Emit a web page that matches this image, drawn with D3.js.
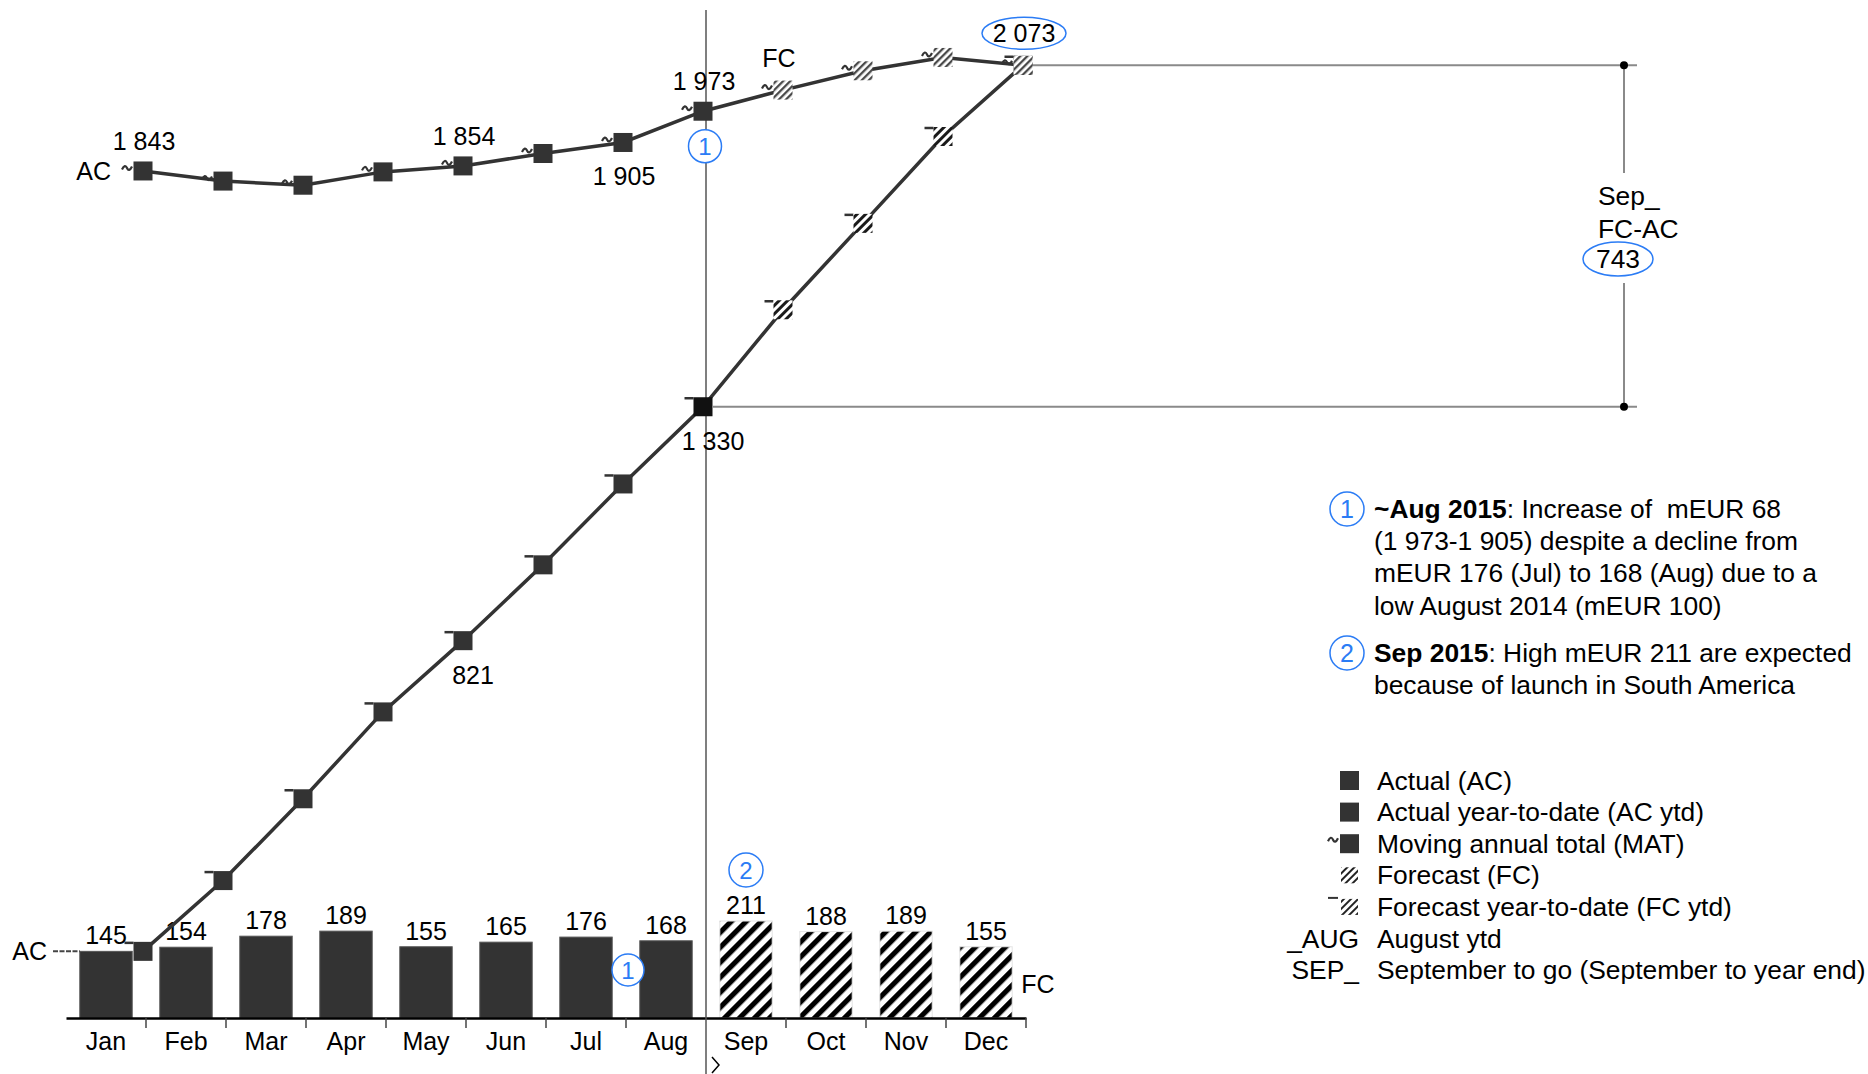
<!DOCTYPE html>
<html><head><meta charset="utf-8">
<script src="https://cdn.jsdelivr.net/npm/d3@7"></script>
<style>
html,body{margin:0;padding:0;background:#fff;}
svg{display:block;font-family:"Liberation Sans",Arial,Helvetica,sans-serif;}
</style></head><body>
<svg id="chart" width="1868" height="1074"></svg>
<script>
// ---------------- data ----------------
const months = ["Jan","Feb","Mar","Apr","May","Jun","Jul","Aug","Sep","Oct","Nov","Dec"];
const acMonthly = [145,154,178,189,155,165,176,168];        // Actual Jan..Aug
const fcMonthly = [211,188,189,155];                        // Forecast Sep..Dec
const acYtd = [145,299,477,666,821,986,1162,1330];          // Actual year-to-date
const fcYtd = [1541,1729,1918,2073];                        // Forecast year-to-date
const acMat = [1843,1821,1812,1841,1854,1881,1905,1973];    // Moving annual total (AC)
const fcMat = [2019,2061,2090,2073];                        // Moving annual total (FC)
const gapLabel = ["Sep_","FC-AC"];
const gapValue = 743;
const notes = [
  {n:"1", lines:[[{t:"~Aug 2015",b:true},{t:": Increase of \u00a0mEUR 68"}],[{t:"(1 973-1 905) despite a decline from"}],[{t:"mEUR 176 (Jul) to 168 (Aug) due to a"}],[{t:"low August 2014 (mEUR 100)"}]]},
  {n:"2", lines:[[{t:"Sep 2015",b:true},{t:": High mEUR 211 are expected"}],[{t:"because of launch in South America"}]]}
];
const legendItems = [
  {icon:"ac", label:"Actual (AC)"},
  {icon:"ac", label:"Actual year-to-date (AC ytd)"},
  {icon:"mat", label:"Moving annual total (MAT)"},
  {icon:"fc", label:"Forecast (FC)"},
  {icon:"fcytd", label:"Forecast year-to-date (FC ytd)"},
  {icon:"_AUG", label:"August ytd"},
  {icon:"SEP_", label:"September to go (September to year end)"}
];

// ---------------- setup ----------------
const svg = d3.select("#chart");
const FONT = '"Liberation Sans",Arial,Helvetica,sans-serif';
const BLUE = "#2b7cf5";
const DARK = "#333";
const RFS = 26.4; // right-side font size
const fmt = v => d3.format(",")(v).replace(/,/g," ");

const bars = months.map((m,i)=>({m, v: i<8?acMonthly[i]:fcMonthly[i-8], fc:i>=8}));
const ytd  = months.map((m,i)=>({m, v: i<8?acYtd[i]:fcYtd[i-8], fc:i>=8}));
const mat  = months.map((m,i)=>({m, v: i<8?acMat[i]:fcMat[i-8], fc:i>=8}));

const x = d3.scaleBand().domain(months).range([66,1026]).padding(0);
const y = d3.scaleLinear().domain([0,2215]).range([1018,0]);
const bw = x.bandwidth();
const barW = bw*0.655;
const mx = m => x(m) + bw - 3;
const MS = 19; // marker size

// tilde path (left-center at x0,y0, width 10)
const tildeD = (x0,y0) => `M${x0},${y0+1.5} C${x0+2},${y0-2.8} ${x0+3.8},${y0-2.8} ${x0+5},${y0} S${x0+8},${y0+2.8} ${x0+10},${y0-1.5}`;

// patterns
const defs = svg.append("defs");
function hatch(id, period, stripe, color){
  const p = defs.append("pattern").attr("id",id).attr("patternUnits","userSpaceOnUse")
    .attr("width",period).attr("height",period).attr("patternTransform","rotate(45)");
  p.append("rect").attr("width",period).attr("height",period).attr("fill","#fff");
  p.append("rect").attr("width",stripe).attr("height",period).attr("fill",color);
}
hatch("hatchBar",10.6,5.2,"#000");
hatch("hatchMark",6,3,"#1a1a1a");
hatch("hatchMat",5,2.3,"#4a4a4a");
hatch("hatchLeg",5,2,"#222");

// ---------------- bars ----------------
const gBars = svg.append("g");
gBars.selectAll("rect").data(bars).join("rect")
  .attr("x", d=>x(d.m)+(bw-barW)/2).attr("y", d=>y(d.v))
  .attr("width", barW).attr("height", d=>y(0)-y(d.v))
  .attr("fill", d=>d.fc?"url(#hatchBar)":DARK)
  .attr("stroke", d=>d.fc?"#e4e4e4":"#555").attr("stroke-width",1);

gBars.selectAll("text").data(bars).join("text")
  .attr("x", d=>x(d.m)+bw/2).attr("y", d=>y(d.v)-7)
  .attr("text-anchor","middle").attr("font-size",25).attr("fill","#000")
  .text(d=>d.v);

// AC / FC labels for bars
svg.append("text").attr("x",47).attr("y",y(acMonthly[0])+9).attr("text-anchor","end")
  .attr("font-size",25).text("AC");
svg.append("line").attr("x1",53).attr("x2",x("Jan")+(bw-barW)/2).attr("y1",y(acMonthly[0])).attr("y2",y(acMonthly[0]))
  .attr("stroke","#444").attr("stroke-width",2).attr("stroke-dasharray","5,1.5");
svg.append("text").attr("x",x("Dec")+(bw+barW)/2+9).attr("y",993)
  .attr("font-size",25).text("FC");

// ---------------- axis ----------------
const axis = d3.axisBottom(x).tickSize(0).tickPadding(14).tickSizeOuter(0);
const ax = svg.append("g").attr("transform",`translate(0,${y(0)})`).call(axis)
  .attr("font-size",25).attr("font-family",FONT);
ax.select(".domain").attr("stroke","#000").attr("stroke-width",2.5);
ax.selectAll("text").attr("fill","#000");
const tickXs = months.slice(1).map(m=>x(m)).concat([x("Dec")+bw]).filter(v=>Math.abs(v-x("Sep"))>1);
svg.append("g").selectAll("line").data(tickXs).join("line")
  .attr("x1",d=>d).attr("x2",d=>d).attr("y1",y(0)).attr("y2",y(0)+10)
  .attr("stroke","#444").attr("stroke-width",1.5);

// vertical separator
const sepX = x("Sep");
svg.append("line").attr("x1",sepX).attr("x2",sepX).attr("y1",10).attr("y2",1074)
  .attr("stroke","#555").attr("stroke-width",1.5);
svg.append("path").attr("d",`M${sepX+6},1057 L${sepX+13},1065 L${sepX+6},1073`)
  .attr("fill","none").attr("stroke","#000").attr("stroke-width",1.5);

// ---------------- gap bracket (Sep_ FC-AC) ----------------
const yTop = y(fcYtd[3]), yBot = y(acYtd[7]);
const bx = 1624;
const gGap = svg.append("g").attr("stroke","#8a8a8a").attr("stroke-width",2);
gGap.append("line").attr("x1",mx("Dec")+10).attr("x2",bx+13).attr("y1",yTop).attr("y2",yTop);
gGap.append("line").attr("x1",mx("Aug")+10).attr("x2",bx+13).attr("y1",yBot).attr("y2",yBot);
gGap.append("line").attr("x1",bx).attr("x2",bx).attr("y1",yTop).attr("y2",173);
gGap.append("line").attr("x1",bx).attr("x2",bx).attr("y1",283).attr("y2",yBot);
svg.append("circle").attr("cx",bx).attr("cy",yTop).attr("r",4).attr("fill","#000");
svg.append("circle").attr("cx",bx).attr("cy",yBot).attr("r",4).attr("fill","#000");
svg.append("text").attr("x",1598).attr("y",205).attr("font-size",RFS).text(gapLabel[0]);
svg.append("text").attr("x",1598).attr("y",238).attr("font-size",RFS).text(gapLabel[1]);
svg.append("ellipse").attr("cx",1618).attr("cy",259).attr("rx",35).attr("ry",17)
  .attr("fill","none").attr("stroke",BLUE).attr("stroke-width",1.5);
svg.append("text").attr("x",1618).attr("y",268).attr("text-anchor","middle").attr("font-size",RFS).text(gapValue);

// ---------------- lines ----------------
const line = d3.line().x(d=>mx(d.m)).y(d=>y(d.v));
svg.append("path").datum(ytd).attr("d",line).attr("fill","none").attr("stroke",DARK).attr("stroke-width",3.5);
svg.append("path").datum(mat).attr("d",line).attr("fill","none").attr("stroke",DARK).attr("stroke-width",3.5);

// ytd markers
const gY = svg.append("g");
gY.selectAll("line").data(ytd).join("line")
  .attr("x1",d=>mx(d.m)-MS/2-9).attr("x2",d=>mx(d.m)-MS/2)
  .attr("y1",d=>y(d.v)-MS/2+1).attr("y2",d=>y(d.v)-MS/2+1)
  .attr("stroke",DARK).attr("stroke-width",2.5);
gY.selectAll("rect").data(ytd).join("rect")
  .attr("x",d=>mx(d.m)-MS/2).attr("y",d=>y(d.v)-MS/2).attr("width",MS).attr("height",MS)
  .attr("fill",d=>d.fc?"url(#hatchMark)":(d.m==="Aug"?"#111":DARK));

// mat markers
const gM = svg.append("g");
gM.selectAll("path").data(mat).join("path")
  .attr("d",d=>tildeD(mx(d.m)-MS/2-11.5, y(d.v)-3))
  .attr("fill","none").attr("stroke",DARK).attr("stroke-width",2.2);
gM.selectAll("rect").data(mat).join("rect")
  .attr("x",d=>mx(d.m)-MS/2).attr("y",d=>y(d.v)-MS/2).attr("width",MS).attr("height",MS)
  .attr("fill",d=>d.fc?"url(#hatchMat)":DARK);

// ---------------- labels on lines ----------------
const matByM = Object.fromEntries(mat.map(d=>[d.m,d]));
const ytdByM = Object.fromEntries(ytd.map(d=>[d.m,d]));
const lbls = [
  {d:matByM.Jan, dx:1, dy:-21, t:fmt(matByM.Jan.v)},
  {d:matByM.May, dx:1, dy:-21, t:fmt(matByM.May.v)},
  {d:matByM.Jul, dx:1, dy:43, t:fmt(matByM.Jul.v)},
  {d:matByM.Aug, dx:1, dy:-21, t:fmt(matByM.Aug.v)},
  {d:matByM.Sep, dx:-4, dy:-23, t:"FC"},
  {d:matByM.Dec, dx:1, dy:-23, t:fmt(matByM.Dec.v)},
  {d:ytdByM.May, dx:10, dy:43, t:fmt(ytdByM.May.v)},
  {d:ytdByM.Aug, dx:10, dy:43, t:fmt(ytdByM.Aug.v)}
];
svg.append("g").selectAll("text").data(lbls).join("text")
  .attr("x",l=>mx(l.d.m)+l.dx).attr("y",l=>y(l.d.v)+l.dy)
  .attr("text-anchor","middle").attr("font-size",25).attr("fill","#000").text(l=>l.t);
svg.append("text").attr("x",mx("Jan")-32).attr("y",y(acMat[0])+9).attr("text-anchor","end")
  .attr("font-size",25).text("AC");
// circle around Dec value
svg.append("ellipse").attr("cx",mx("Dec")+1).attr("cy",y(fcMat[3])-32).attr("rx",42).attr("ry",16)
  .attr("fill","none").attr("stroke",BLUE).attr("stroke-width",1.5);

// numbered circles
function numCircle(cx,cy,n,r=17,size=24){
  svg.append("ellipse").attr("cx",cx).attr("cy",cy).attr("rx",r).attr("ry",r)
    .attr("fill","#fff").attr("stroke",BLUE).attr("stroke-width",1.5);
  svg.append("text").attr("x",cx).attr("y",cy+8.5).attr("text-anchor","middle")
    .attr("font-size",size).attr("fill",BLUE).text(n);
}
numCircle(sepX-1, y(acMat[7])+35, "1", 16.5);
numCircle(x("Aug")+2, 970, "1", 16);
numCircle(x("Sep")+bw/2, 870, "2", 17);

// ---------------- notes ----------------
const noteTop = [509, 653];
notes.forEach((nt,i)=>{
  numCircle(1347, noteTop[i], nt.n, 17, 25);
  nt.lines.forEach((ln,j)=>{
    const t = svg.append("text").attr("x",1374).attr("y",noteTop[i]+9+j*32.2).attr("font-size",RFS).attr("fill","#000");
    ln.forEach(s=>t.append("tspan").attr("font-weight",s.b?"bold":"normal").text(s.t));
  });
});

// ---------------- legend ----------------
const legY = i => 780.5 + i*31.6;
legendItems.forEach((it,i)=>{
  const cy = legY(i);
  const g = svg.append("g");
  if(it.icon==="ac" || it.icon==="mat"){
    g.append("rect").attr("x",1340).attr("y",cy-9.5).attr("width",19).attr("height",19).attr("fill",DARK);
    if(it.icon==="mat") g.append("path").attr("d",tildeD(1328,cy-4)).attr("fill","none").attr("stroke",DARK).attr("stroke-width",2.2);
  } else if(it.icon==="fc" || it.icon==="fcytd"){
    g.append("rect").attr("x",1341).attr("y",cy-8).attr("width",17).attr("height",16).attr("fill","url(#hatchLeg)");
    if(it.icon==="fcytd") g.append("line").attr("x1",1328).attr("x2",1338).attr("y1",cy-9).attr("y2",cy-9).attr("stroke",DARK).attr("stroke-width",2);
  } else {
    g.append("text").attr("x",1359).attr("y",cy+9).attr("text-anchor","end").attr("font-size",RFS).text(it.icon);
  }
  g.append("text").attr("x",1377).attr("y",cy+9).attr("font-size",RFS).attr("fill","#000").text(it.label);
});
</script>
</body></html>
